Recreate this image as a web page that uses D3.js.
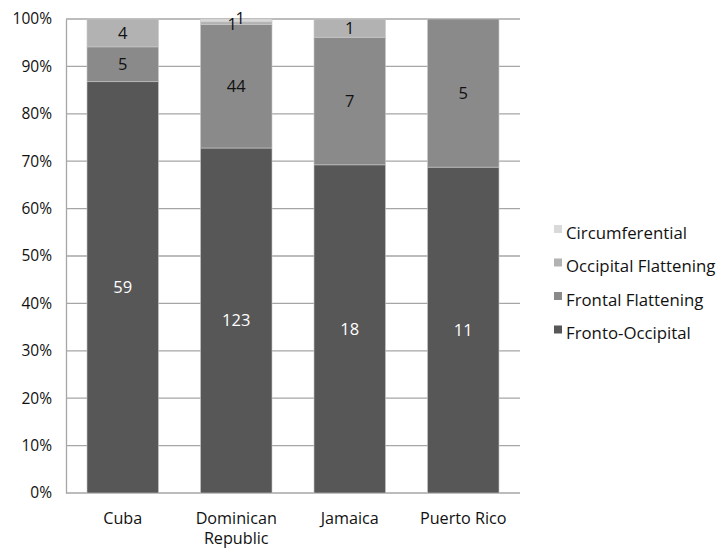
<!DOCTYPE html>
<html>
<head>
<meta charset="utf-8">
<script src="https://cdn.jsdelivr.net/npm/d3@7"></script>
<style>
  body { margin: 0; background: #fff; }
  svg { display: block; font-family: "Open Sans", "DejaVu Sans", sans-serif; }
</style>
</head>
<body>
<svg id="chart" width="720" height="548"></svg>
<script>
// Head-shape counts by island
const countries = ["Cuba", "Dominican Republic", "Jamaica", "Puerto Rico"];
const frontoOccipital = [59, 123, 18, 11];
const frontalFlattening = [5, 44, 7, 5];
const occipitalFlattening = [4, 1, 1, 0];
const circumferential = [0, 1, 0, 0];
const seriesNames = ["Fronto-Occipital", "Frontal Flattening", "Occipital Flattening", "Circumferential"];
const seriesColors = ["#575757", "#8a8a8a", "#b2b2b2", "#d9d9d9"];
const yTicks = [0, 0.1, 0.2, 0.3, 0.4, 0.5, 0.6, 0.7, 0.8, 0.9, 1.0];

const seriesValues = [frontoOccipital, frontalFlattening, occipitalFlattening, circumferential];

const rows = countries.map((c, i) => {
  const r = { country: c };
  seriesNames.forEach((s, k) => r[s] = seriesValues[k][i]);
  return r;
});

const stacked = d3.stack().keys(seriesNames).offset(d3.stackOffsetExpand)(rows);

const svg = d3.select("#chart");
const m = { left: 66, right: 200, top: 19, bottom: 55 };
const W = 720, H = 548;

const x = d3.scaleBand().domain(countries)
  .range([m.left, W - m.right])
  .paddingInner(0.37).paddingOuter(0.185);
const y = d3.scaleLinear().domain([0, 1]).range([H - m.bottom, m.top]);

// gridlines
svg.append("g").selectAll("line").data(yTicks).join("line")
  .attr("x1", m.left).attr("x2", W - m.right)
  .attr("y1", d => y(d)).attr("y2", d => y(d))
  .attr("stroke", "#a6a6a6").attr("stroke-width", 1.3);

// y axis
const yAxis = d3.axisLeft(y).tickValues(yTicks).tickFormat(d3.format(".0%")).tickSize(0).tickPadding(14);
const gy = svg.append("g").attr("transform", `translate(${m.left},0)`).call(yAxis);
gy.select(".domain").attr("stroke", "#a6a6a6").attr("stroke-width", 1.3);
gy.selectAll("text").attr("font-size", 15.5).attr("fill", "#111")
  .attr("font-family", "'Open Sans', sans-serif");

// bars
const layer = svg.append("g").selectAll("g").data(stacked).join("g")
  .attr("fill", (d, i) => seriesColors[i]);
layer.selectAll("rect").data(d => d).join("rect")
  .attr("x", d => x(d.data.country))
  .attr("width", x.bandwidth())
  .attr("y", d => y(d[1]))
  .attr("height", d => Math.max(0, y(d[0]) - y(d[1])))
  .attr("stroke", "#c8c8c8").attr("stroke-width", 0.6);

// value labels
stacked.forEach((s, k) => {
  s.forEach((d, i) => {
    const v = d.data[s.key];
    if (!v) return;
    let cx = x(d.data.country) + x.bandwidth() / 2;
    let cy = y((d[0] + d[1]) / 2);
    // tiny slices at the top of a bar nudge apart so both numbers show
    if (d[1] - d[0] < 0.012) {
      cx += (k === 2 ? -4 : 4);
      cy += (k === 2 ? 1 : -2);
    }
    svg.append("text")
      .attr("x", cx).attr("y", cy).attr("dy", "0.35em")
      .attr("text-anchor", "middle")
      .attr("font-size", 16.5)
      .attr("fill", k === 0 ? "#ffffff" : "#111")
      .text(v);
  });
});

// x axis labels
const xLines = { "Dominican Republic": ["Dominican", "Republic"] };
countries.forEach(c => {
  const lines = xLines[c] || [c];
  const t = svg.append("text")
    .attr("x", x(c) + x.bandwidth() / 2).attr("y", H - m.bottom + 31)
    .attr("text-anchor", "middle").attr("font-size", 16.2).attr("fill", "#111");
  lines.forEach((l, j) => t.append("tspan")
    .attr("x", x(c) + x.bandwidth() / 2).attr("dy", j === 0 ? 0 : 20).text(l));
});

// legend (top entry is the top of the stack)
const legendOrder = seriesNames.slice().reverse();
const lg = svg.append("g").attr("transform", "translate(554,233)");
legendOrder.forEach((name, j) => {
  const g = lg.append("g").attr("transform", `translate(0,${j * 33.5})`);
  g.append("rect").attr("x", 0).attr("y", -8).attr("width", 8).attr("height", 8)
    .attr("fill", seriesColors[seriesNames.indexOf(name)]);
  g.append("text").attr("x", 12).attr("y", 0).attr("dy", "0.35em")
    .attr("font-size", 16.8).attr("fill", "#111").text(name);
});
</script>
</body>
</html>
